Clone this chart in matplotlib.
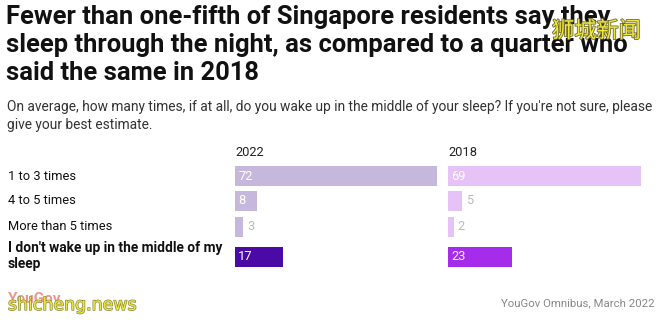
import matplotlib.pyplot as plt
import matplotlib.patheffects as pe

categories = ['1 to 3 times', '4 to 5 times', 'More than 5 times',
              "I don't wake up in the middle of my\nsleep"]
vals_2022 = [72, 8, 3, 17]
vals_2018 = [69, 5, 2, 23]
years = ['2022', '2018']

W, H = 664, 324
fig = plt.figure(figsize=(W / 100, H / 100), dpi=100)
fig.patch.set_facecolor('white')

def px(x, y):
    return x / W, 1 - y / H

# title + question
title = ('Fewer than one-fifth of Singapore residents say they\n'
         'sleep through the night, as compared to a quarter who\n'
         'said the same in 2018')
fig.text(*px(6, 5), title, ha='left', va='top', fontsize=18.4, fontweight='bold',
         family='Roboto', color='#111111', linespacing=1.22)
fig.text(*px(7, 100), 'On average, how many times, if at all, do you wake up in the middle of your sleep? '
         "If you're not sure, please\ngive your best estimate.",
         ha='left', va='top', fontsize=9.9, family='Roboto', color='#333333', linespacing=1.4)

row_y = [176, 201, 227, 257]
bar_h = 20
scale_max = 75

for i, cat in enumerate(categories):
    bold = i == len(categories) - 1
    y = row_y[i] if not bold else row_y[i] - 1
    fig.text(*px(8, y), cat, ha='left', va='center', fontsize=9.9 if bold else 9.3, family='Roboto',
             fontweight='bold' if bold else 'normal', color='#111111', linespacing=1.2)

columns = [
    (235, years[0], vals_2022, '#c5b8dc', '#4b0aa6'),
    (448, years[1], vals_2018, '#e5c3f6', '#a62ceb'),
]
for left, year, vals, light, dark in columns:
    ax = fig.add_axes([left / W, 0, 2.8 * scale_max / W, 1])
    ax.set_xlim(0, scale_max)
    ax.set_ylim(H, 0)
    ax.axis('off')
    colors = [light] * (len(vals) - 1) + [dark]
    ax.barh(row_y, vals, height=bar_h, color=colors, left=0)
    ax.text(0, 153, year, ha='left', va='center', fontsize=9.3, family='Roboto', color='#222222')
    for y, v in zip(row_y, vals):
        if v >= 6:
            ax.text(1.2, y, str(v), ha='left', va='center', fontsize=9.3, family='Roboto', color='white')
        else:
            ax.text(v + 1.5, y, str(v), ha='left', va='center', fontsize=9.3, family='Roboto', color='#bbbbbb')

# footer
fig.text(*px(8, 299), 'YouGov', ha='left', va='center', fontsize=11, family='Roboto',
         fontweight='bold', color='#e8736a', alpha=0.75)
fig.text(*px(8, 305), 'shicheng.news', ha='left', va='center', fontsize=12.5, family='DejaVu Sans',
         color='#ece43a', path_effects=[pe.withStroke(linewidth=1, foreground='#8a8a40')])
fig.text(*px(655, 303), 'YouGov Omnibus, March 2022', ha='right', va='center', fontsize=8.2,
         family='Roboto', color='#888888')
fig.text(*px(552, 31), '狮城新闻', ha='left', va='center', fontsize=16, family='Noto Sans CJK SC',
         color='#f2e640', path_effects=[pe.withStroke(linewidth=1.2, foreground='#6a6a30')])

fig.savefig('out.png', dpi=100, facecolor='white')
